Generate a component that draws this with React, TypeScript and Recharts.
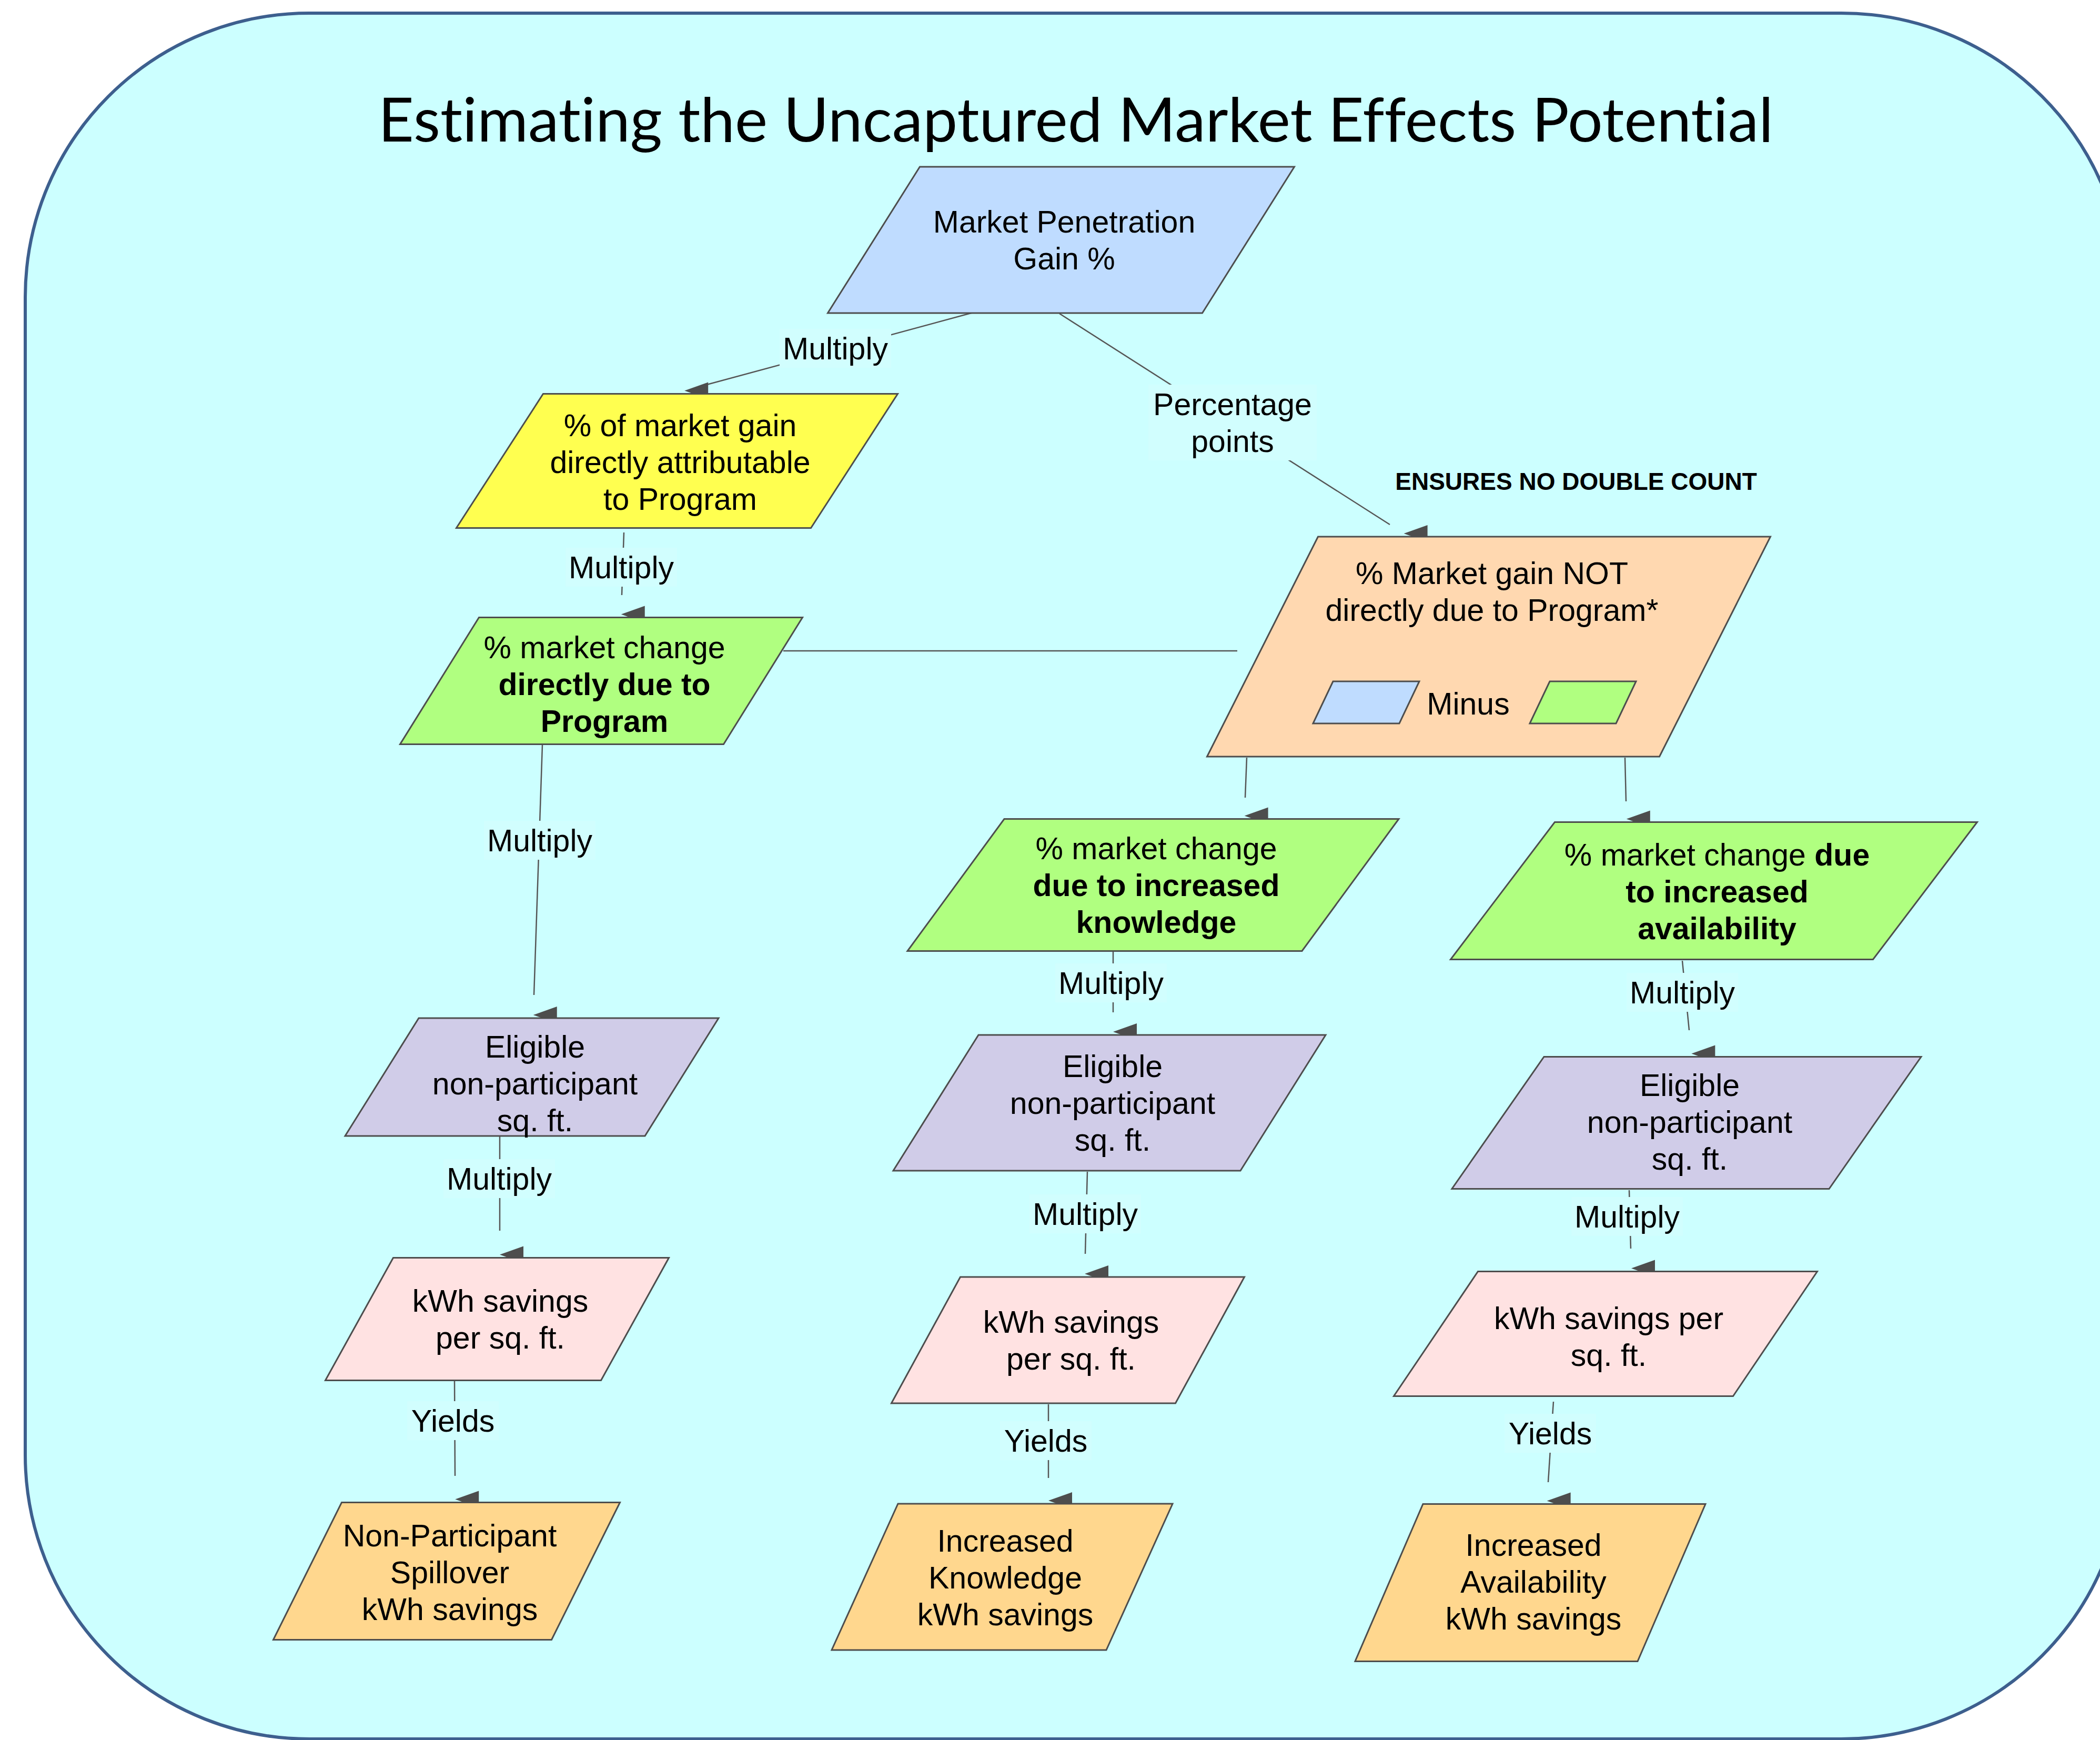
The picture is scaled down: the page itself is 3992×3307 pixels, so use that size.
import { ScatterChart, Scatter, XAxis, YAxis, ReferenceArea } from 'recharts';

const W = 3992;
const H = 3307;

// frame + title
const FRAME_X = [48, 4040];
const FRAME_Y = [25, 3305];
const TITLE = 'Estimating the Uncaptured Market Effects Potential';
const TITLE_AT = [2045, 269];

// flowchart nodes (diagram coordinates of each box centre)
const NODE_IDS = [
  'pen', 'attr', 'direct', 'notDirect', 'knowledge', 'availability',
  'eligL', 'eligM', 'eligR', 'kwhL', 'kwhM', 'kwhR', 'outL', 'outM', 'outR',
];
const NODE_X = [2017, 1287, 1143, 2830, 2192, 3258, 1011, 2109, 3206, 945, 2030, 3052, 849, 1905, 2909];
const NODE_Y = [456, 876, 1294, 1229, 1682, 1693, 2047, 2096, 2134, 2507, 2547, 2535, 2986, 2997, 3008];
const NODE_TEXT = [
  ['Market Penetration', 'Gain %'],
  ['% of market gain', 'directly attributable', 'to Program'],
  ['% market change', '**directly due to**', '**Program**'],
  ['% Market gain NOT', 'directly due to Program*'],
  ['% market change', '**due to increased**', '**knowledge**'],
  ['% market change **due**', '**to increased**', '**availability**'],
  ['Eligible', 'non-participant', 'sq. ft.'],
  ['Eligible', 'non-participant', 'sq. ft.'],
  ['Eligible', 'non-participant', 'sq. ft.'],
  ['kWh savings', 'per sq. ft.'],
  ['kWh savings', 'per sq. ft.'],
  ['kWh savings per', 'sq. ft.'],
  ['Non-Participant', 'Spillover', 'kWh savings'],
  ['Increased', 'Knowledge', 'kWh savings'],
  ['Increased', 'Availability', 'kWh savings'],
];

// small shapes inside the "NOT directly" box
const MINI_X = [2597, 3009];
const MINI_Y = [1335, 1335];
const MINI_FILL = ['#bfdcff', '#b0ff80'];

// free text
const NOTE_TEXT = ['ENSURES NO DOUBLE COUNT', 'Minus'];
const NOTE_X = [2996, 2791];
const NOTE_Y = [915, 1337];

// connectors
const EDGE_FROM = [
  [1850, 594], [2014, 596], [1186, 1012], [1489, 1237], [1031, 1416],
  [2370, 1440], [3089, 1440], [2116, 1808], [3198, 1826], [950, 2160],
  [864, 2624], [2067, 2227], [1993, 2669], [3097, 2262], [2953, 2664],
];
const EDGE_TO = [
  [1340, 732], [2642, 997], [1182, 1131], [2352, 1237], [1015, 1891],
  [2367, 1516], [3091, 1523], [2116, 1924], [3211, 1958], [950, 2339],
  [865, 2805], [2063, 2383], [1993, 2809], [3100, 2373], [2943, 2817],
];
const EDGE_TARGET = [
  'attr', 'notDirect', 'direct', null, 'eligL', 'knowledge', 'availability',
  'eligM', 'eligR', 'kwhL', 'outL', 'kwhM', 'outM', 'kwhR', 'outR',
];
const EDGE_LABEL = [
  'Multiply', 'Percentage\npoints', 'Multiply', '', 'Multiply', '', '', 'Multiply',
  'Multiply', 'Multiply', 'Yields', 'Multiply', 'Yields', 'Multiply', 'Yields',
];
const EDGE_LABEL_AT = [
  [1588, 662], [2343, 803], [1181, 1078], null, [1026, 1597], null, null, [2112, 1868],
  [3198, 1886], [949, 2240], [861, 2700], [2063, 2307], [1988, 2738], [3093, 2312], [2947, 2724],
];

// ---- styling ----
const FONT = '"Liberation Sans", Arial, sans-serif';
const GREEN = '#b0ff80';
const PURPLE = '#d0cce8';
const PINK = '#ffe2e2';
const GOLD = '#ffd78e';

const NODE_STYLE: Record<string, { w: number; h: number; s: number; fill: string; dy: number }> = {
  pen: { w: 712, h: 278, s: 175, fill: '#bfdcff', dy: 0 },
  attr: { w: 674, h: 255, s: 165, fill: '#ffff50', dy: 2 },
  direct: { w: 615, h: 241, s: 150, fill: GREEN, dy: 6 },
  notDirect: { w: 860, h: 418, s: 211, fill: '#ffd8b0', dy: -105 },
  knowledge: { w: 750, h: 251, s: 184, fill: GREEN, dy: 0 },
  availability: { w: 803, h: 261, s: 198, fill: GREEN, dy: 1 },
  eligL: { w: 570, h: 224, s: 140, fill: PURPLE, dy: 12 },
  eligM: { w: 660, h: 258, s: 162, fill: PURPLE, dy: 0 },
  eligR: { w: 717, h: 251, s: 175, fill: PURPLE, dy: -2 },
  kwhL: { w: 524, h: 233, s: 129, fill: PINK, dy: 0 },
  kwhM: { w: 540, h: 240, s: 131, fill: PINK, dy: 0 },
  kwhR: { w: 645, h: 237, s: 160, fill: PINK, dy: 5 },
  outL: { w: 529, h: 261, s: 130, fill: GOLD, dy: 2 },
  outM: { w: 522, h: 278, s: 126, fill: GOLD, dy: 1 },
  outR: { w: 537, h: 299, s: 129, fill: GOLD, dy: -2 },
};
const LABEL_BOX_W: Record<string, number> = { Multiply: 212, Yields: 174, 'Percentage\npoints': 320 };

const FS = 59;
const LINE_H = 70;

function paraPoints(cx: number, cy: number, w: number, h: number, s: number) {
  const t = cy - h / 2;
  const b = cy + h / 2;
  return [
    [cx - w / 2 + s / 2, t],
    [cx + w / 2 + s / 2, t],
    [cx + w / 2 - s / 2, b],
    [cx - w / 2 - s / 2, b],
  ].map(p => p.join(',')).join(' ');
}

function richLine(line: string) {
  return line.split('**').map((part, i) => (
    <tspan key={i} fontWeight={i % 2 === 1 ? 'bold' : 'normal'}>{part}</tspan>
  ));
}

const nodeData = NODE_IDS.map((id, i) => ({ id, x: NODE_X[i], y: NODE_Y[i], lines: NODE_TEXT[i] }));
const miniData = MINI_X.map((x, i) => ({ x, y: MINI_Y[i], fill: MINI_FILL[i] }));
const noteData = NOTE_TEXT.map((text, i) => ({ text, x: NOTE_X[i], y: NOTE_Y[i], bold: i === 0 }));

const labelData = EDGE_LABEL.map((text, i) => {
  const at = EDGE_LABEL_AT[i];
  return at ? { text, x: at[0], y: at[1] } : null;
}).filter(Boolean) as { text: string; x: number; y: number }[];

// arrow tip: edge line extended down to just above the target's top edge
const arrowData = EDGE_TARGET.map((target, i) => {
  if (!target) return null;
  const k = NODE_IDS.indexOf(target);
  const top = NODE_Y[k] - NODE_STYLE[target].h / 2;
  const [x1, y1] = EDGE_FROM[i];
  const [x2, y2] = EDGE_TO[i];
  const ty = top - 6;
  const tx = x2 + ((ty - y2) * (x2 - x1)) / (y2 - y1);
  return { x: tx, y: ty };
}).filter(Boolean) as { x: number; y: number }[];

const NodeShape = (props: any) => {
  const { cx, cy, payload } = props;
  const st = NODE_STYLE[payload.id];
  const lines: string[] = payload.lines;
  const n = lines.length;
  return (
    <g>
      <polygon points={paraPoints(cx, cy, st.w, st.h, st.s)} fill={st.fill} stroke="#4d4d4d" strokeWidth={3} />
      <text textAnchor="middle" fontFamily={FONT} fontSize={FS} fill="#000" style={{ whiteSpace: 'pre' }}>
        {lines.map((ln, i) => (
          <tspan key={i} x={cx + 6} y={cy + st.dy + (i - (n - 1) / 2) * LINE_H + 21}>
            {richLine(ln)}
          </tspan>
        ))}
      </text>
    </g>
  );
};

const MiniShape = (props: any) => {
  const { cx, cy, payload } = props;
  return <polygon points={paraPoints(cx, cy, 164, 80, 38)} fill={payload.fill} stroke="#4d4d4d" strokeWidth={3} />;
};

const ArrowShape = (props: any) => {
  const { cx, cy } = props;
  const pts = [[cx, cy], [cx + 45, cy - 16], [cx + 45, cy + 16]].map(p => p.join(',')).join(' ');
  return <polygon points={pts} fill="#4d4d4d" />;
};

const LabelShape = (props: any) => {
  const { cx, cy, payload } = props;
  const lines = payload.text.split('\n');
  const bw = LABEL_BOX_W[payload.text] ?? 210;
  const bh = lines.length * LINE_H + 4;
  return (
    <g>
      <rect x={cx - bw / 2} y={cy - bh / 2} width={bw} height={bh} fill="#d1fefe" />
      <text textAnchor="middle" fontFamily={FONT} fontSize={FS} fill="#000">
        {lines.map((ln: string, i: number) => (
          <tspan key={i} x={cx} y={cy + (i - (lines.length - 1) / 2) * LINE_H + 21}>{ln}</tspan>
        ))}
      </text>
    </g>
  );
};

const NoteShape = (props: any) => {
  const { cx, cy, payload } = props;
  return (
    <text x={cx} y={cy + (payload.bold ? 16 : 21)} textAnchor="middle" fontFamily={FONT}
      fontSize={payload.bold ? 46 : FS} fontWeight={payload.bold ? 'bold' : 'normal'} fill="#000">
      {payload.text}
    </text>
  );
};

const TitleShape = (props: any) => (
  <text x={props.cx} y={props.cy} textAnchor="middle" fontFamily="Lato, 'Open Sans', sans-serif"
    fontSize={116} fill="#000" textLength={2652} lengthAdjust="spacingAndGlyphs"
    style={{ fontVariantLigatures: 'none' }}>
    {TITLE}
  </text>
);

const Empty = () => <g />;

export default function App() {
  return (
    <div style={{ position: 'absolute', left: 0, top: 0, width: W, height: H, background: '#fff' }}>
      <ScatterChart width={W} height={H} margin={{ top: 0, right: 0, bottom: 0, left: 0 }}>
        <XAxis type="number" dataKey="x" domain={[0, W]} hide allowDataOverflow />
        <YAxis type="number" dataKey="y" domain={[0, H]} reversed hide allowDataOverflow />
        <ReferenceArea
          x1={FRAME_X[0]} x2={FRAME_X[1]} y1={FRAME_Y[0]} y2={FRAME_Y[1]}
          ifOverflow="visible"
          shape={(p: any) => (
            <rect x={p.x} y={p.y} width={p.width} height={p.height} rx={540} ry={540}
              fill="#ccffff" stroke="#3d5f8e" strokeWidth={6} />
          )}
        />
        <Scatter data={[{ x: TITLE_AT[0], y: TITLE_AT[1] }]} shape={TitleShape} isAnimationActive={false} />
        {EDGE_FROM.map((from, i) => (
          <Scatter
            key={`edge-${i}`}
            data={[{ x: from[0], y: from[1] }, { x: EDGE_TO[i][0], y: EDGE_TO[i][1] }]}
            line={{ stroke: '#555555', strokeWidth: 2.5 }}
            shape={Empty}
            isAnimationActive={false}
          />
        ))}
        <Scatter data={arrowData} shape={ArrowShape} isAnimationActive={false} />
        <Scatter data={nodeData} shape={NodeShape} isAnimationActive={false} />
        <Scatter data={miniData} shape={MiniShape} isAnimationActive={false} />
        <Scatter data={labelData} shape={LabelShape} isAnimationActive={false} />
        <Scatter data={noteData} shape={NoteShape} isAnimationActive={false} />
      </ScatterChart>
    </div>
  );
}
